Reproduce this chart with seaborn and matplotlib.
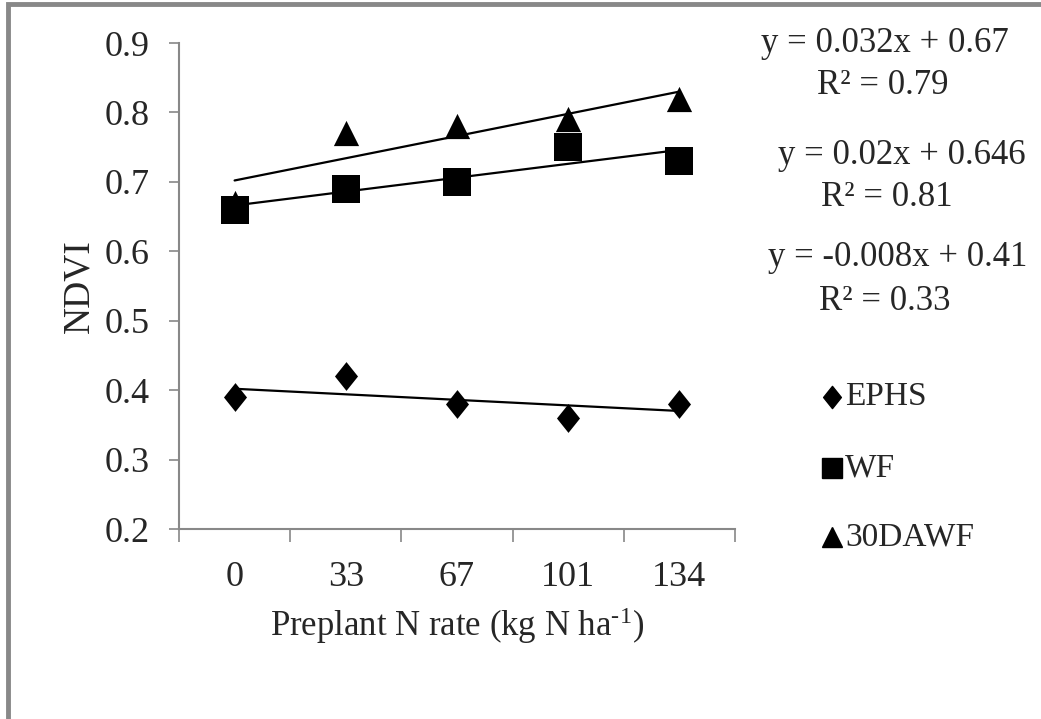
import matplotlib
matplotlib.use("Agg")
import matplotlib.pyplot as plt
import seaborn as sns
import pandas as pd
from matplotlib.patches import Rectangle
from matplotlib.path import Path

# N rates (categorical) and NDVI readings per growth stage
n_rates = ["0", "33", "67", "101", "134"]
ephs = [0.39, 0.42, 0.38, 0.36, 0.38]
wf = [0.66, 0.69, 0.70, 0.75, 0.73]
dawf30 = [0.67, 0.77, 0.78, 0.79, 0.82]
series_names = ["EPHS", "WF", "30DAWF"]

# Linear trendlines (x = category index 1..5)
slopes = [-0.008, 0.02, 0.032]
intercepts = [0.41, 0.646, 0.67]
r2_values = [0.33, 0.81, 0.79]
y_ticks = [0.2, 0.3, 0.4, 0.5, 0.6, 0.7, 0.8, 0.9]

sns.set_style("white")
plt.rcParams["font.family"] = ["Liberation Serif", "DejaVu Serif"]
plt.rcParams["mathtext.fontset"] = "custom"
plt.rcParams["mathtext.rm"] = "Liberation Serif"
plt.rcParams["mathtext.it"] = "Liberation Serif:italic"

W, H = 1041, 719

df = pd.DataFrame({
    "rate": n_rates * 3,
    "ndvi": ephs + wf + dawf30,
    "stage": [s for s in series_names for _ in n_rates],
})

fig = plt.figure(figsize=(W / 100, H / 100), dpi=100)
ax = fig.add_axes([179 / W, 1 - 529 / H, (735 - 179) / W, (529 - 43) / H])

# Slightly tall diamond, as in spreadsheet chart markers
diamond = Path([(0, 1), (0.8, 0), (0, -1), (-0.8, 0), (0, 1)],
               [Path.MOVETO, Path.LINETO, Path.LINETO, Path.LINETO, Path.CLOSEPOLY])
markers = {"EPHS": diamond, "WF": "s", "30DAWF": "^"}
sizes = {"EPHS": 430, "WF": 380, "30DAWF": 330}
for name in series_names:
    sub = df[df["stage"] == name]
    sns.scatterplot(data=sub, x="rate", y="ndvi", marker=markers[name],
                    s=sizes[name], color="black", edgecolor="black",
                    linewidth=0, ax=ax, zorder=3)

# Trendlines over the category positions
for name, m, b in zip(series_names, slopes, intercepts):
    idx = list(range(len(n_rates)))
    ax.plot(idx, [m * (i + 1) + b for i in idx], color="black", lw=1.6, zorder=2)

ax.set_xlim(-0.5, len(n_rates) - 0.5)
ax.set_ylim(0.2, 0.9)
ax.set_yticks(y_ticks)
ax.set_yticklabels([f"{t:.1f}" for t in y_ticks])
ax.set_xticks(range(len(n_rates)))
ax.set_xticklabels(n_rates)
ax.set_xticks([i - 0.5 for i in range(len(n_rates) + 1)], minor=True)

ax.tick_params(axis="x", which="major", length=0, pad=23, labelsize=26)
ax.tick_params(axis="x", which="minor", length=9, width=1.2, color="#888888",
               direction="out", bottom=True)
ax.tick_params(axis="y", which="major", length=7, width=1.2, color="#888888",
               direction="out", left=True, pad=14, labelsize=26)

for side in ["top", "right"]:
    ax.spines[side].set_visible(False)
for side in ["left", "bottom"]:
    ax.spines[side].set_color("#888888")
    ax.spines[side].set_linewidth(1.5)

ax.set_xlabel("Preplant N rate (kg N ha$^{\\mathregular{\u2010}1}$)", fontsize=25, labelpad=8)
ax.set_ylabel("NDVI", fontsize=27, labelpad=6)

# Regression equations (pixel centres of each equation / R² line)
eq_px = [(885, 43, 883, 86), (902, 155, 887, 197), (898, 258, 885, 301)]
order = [2, 1, 0]  # 30DAWF, WF, EPHS from top to bottom
for k, (ex, ey, rx, ry) in zip(order, eq_px):
    m, b, r2 = slopes[k], intercepts[k], r2_values[k]
    fig.text(ex / W, 1 - ey / H, f"y = {m:g}x + {b:g}", ha="center", va="center",
             fontsize=25)
    fig.text(rx / W, 1 - ry / H, f"R\u00b2 = {r2:.2f}", ha="center", va="center",
             fontsize=25)

# Legend
leg_y = [397, 468, 537]
leg_ms = {"EPHS": 16, "WF": 14, "30DAWF": 14}
for name, ly in zip(series_names, leg_y):
    fig.lines.append(plt.Line2D([832 / W], [1 - ly / H], marker=markers[name],
                                markersize=leg_ms[name], color="black", lw=0,
                                transform=fig.transFigure))
    fig.text(845 / W, 1 - ly / H, name, ha="left", va="center", fontsize=24)

# Chart-area frame
fig.patches.append(Rectangle((8 / W, -0.05), 1.2, 1.05 - 4 / H,
                             transform=fig.transFigure, fill=False,
                             edgecolor="#888888", linewidth=3.5))

fig.savefig("out.png", dpi=100)
